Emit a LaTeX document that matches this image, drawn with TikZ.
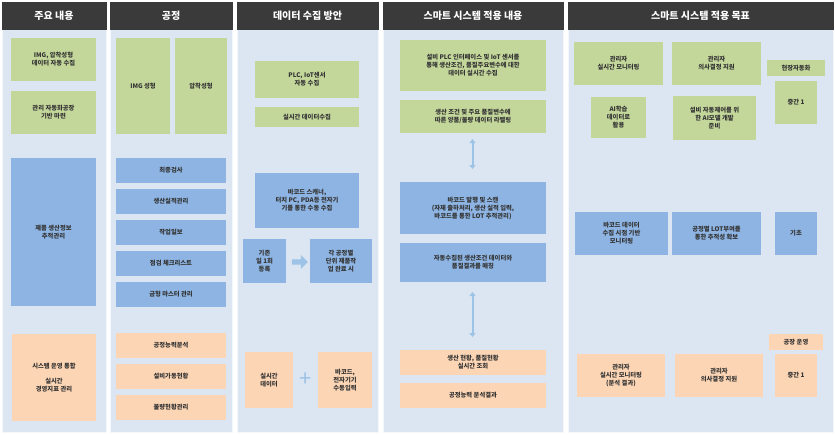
\documentclass[tikz,border=0pt]{standalone}
\usepackage{fontspec}
\setmainfont{Noto Sans CJK KR}
\usetikzlibrary{arrows.meta,shapes.arrows}
\definecolor{hdr}{HTML}{3A3A3A}
\definecolor{colbg}{HTML}{DCE6F2}
\definecolor{gbox}{HTML}{C4D79B}
\definecolor{bbox}{HTML}{8DB4E2}
\definecolor{obox}{HTML}{FCD5B4}
\definecolor{arr}{HTML}{9DC3E6}
\begin{document}
\begin{tikzpicture}[x=1pt,y=-1pt,
  hdrbox/.style={fill=hdr,draw=hdr},
  bgbox/.style={fill=colbg,draw=white!70!colbg},
  txt/.style={font=\fontsize{6.3}{8}\selectfont\bfseries,align=center,text=black!80},
  htxt/.style={font=\fontsize{10}{12}\selectfont\bfseries,text=white}]
\useasboundingbox (0,0) rectangle (835,434);
\fill[white] (0,0) rectangle (835,434);
% columns
\foreach \a/\b/\t [count=\i] in {2/106/주요 내용,110/232/공정,237/378/데이터 수집 방안,383/563/스마트 시스템 적용 내용,568/833/스마트 시스템 적용 목표}{
  \draw[bgbox] (\a,29) rectangle (\b,432);
  \draw[hdrbox] (\a,2) rectangle (\b,29);
  \node[htxt] (h\i) at ({(\a+\b)/2},15.5) {\t};
}
\newcommand{\bx}[7]{\fill[#1] (#3,#4) rectangle (#5,#6); \node[txt] (#2) at ({(#3+#5)/2},{(#4+#6)/2}) {#7};}
% col1
\bx{gbox}{a1}{11}{38}{96}{81}{IMG, 압착성형\\데이터 자동 수집}
\bx{gbox}{a2}{11}{91}{96}{134}{관리 자동화공장\\기반 마련}
\bx{bbox}{a3}{11}{158}{96}{306}{제품 생산정보\\추적관리}
\bx{obox}{a4}{12}{334}{96}{421}{시스템 운영 통합\\[7pt]실시간\\경영지표 관리}
% col2
\bx{gbox}{b1}{116}{38}{170}{134}{IMG 성형}
\bx{gbox}{b2}{175}{38}{227}{134}{압착성형}
\bx{bbox}{b3}{116}{158}{226}{183}{최종검사}
\bx{bbox}{b4}{116}{189}{226}{214}{생산실적관리}
\bx{bbox}{b5}{116}{220}{226}{245}{작업일보}
\bx{bbox}{b6}{116}{251}{226}{276}{점검 체크리스트}
\bx{bbox}{b7}{116}{282}{226}{307}{금형 마스터 관리}
\bx{obox}{b8}{116}{333}{226}{358}{공정능력분석}
\bx{obox}{b9}{116}{364}{226}{389}{설비가동현황}
\bx{obox}{b10}{116}{395}{226}{420}{불량현황관리}
% col3
\bx{gbox}{c1}{255}{61}{359}{98}{PLC, IoT센서\\자동 수집}
\bx{gbox}{c2}{255}{107}{359}{127}{실시간 데이터수집}
\bx{bbox}{c3}{255}{173}{359}{228}{바코드 스캐너,\\터치 PC, PDA등 전자기\\기를 통한 수동 수집}
\bx{bbox}{c4}{243}{239}{286}{283}{기존\\일 1회\\등록}
\bx{bbox}{c5}{310}{239}{372}{283}{각 공정별\\단위 제품작\\업 완료 시}
\node[single arrow,fill=arr,minimum height=16pt,minimum width=14pt,single arrow head extend=2pt,inner sep=1pt] (ar1) at (298.5,262) {};
\bx{obox}{c6}{245}{352}{293}{408}{실시간\\데이터}
\bx{obox}{c7}{318}{352}{372}{408}{바코드,\\전자기기\\수동입력}
\node[font=\fontsize{22}{22}\selectfont,text=arr] (plus) at (305.5,380) {+};
% col4
\bx{gbox}{d1}{400}{40}{546}{91}{설비 PLC 인터페이스 및 IoT 센서를\\통해 생산조건, 품질주요변수에 대한\\데이터 실시간 수집}
\bx{gbox}{d2}{400}{100}{546}{133}{생산 조건 및 주요 품질변수에\\따른 양품/불량 데이터 라벨링}
\bx{bbox}{d3}{400}{182}{546}{234}{바코드 발행 및 스캔\\(자재 출하처리, 생산 실적 입력,\\바코드를 통한 LOT 추적관리)}
\bx{bbox}{d4}{400}{243}{546}{282}{자동수집된 생산조건 데이터와\\품질결과를 매칭}
\bx{obox}{d5}{400}{350}{546}{375}{생산 현황, 품질현황\\실시간 조회}
\bx{obox}{d6}{400}{383}{546}{408}{공정능력 분석결과}
\coordinate (v1a) at (472.5,139); \coordinate (v1b) at (472.5,169);
\coordinate (v2a) at (472.5,292); \coordinate (v2b) at (472.5,337);
\draw[arr,line width=2pt,{Triangle[width=6pt,length=4pt]}-{Triangle[width=6pt,length=4pt]}] (v1a) -- (v1b);
\draw[arr,line width=2pt,{Triangle[width=6pt,length=4pt]}-{Triangle[width=6pt,length=4pt]}] (v2a) -- (v2b);
% col5
\bx{gbox}{e1}{574}{42}{663}{85}{관리자\\실시간 모니터링}
\bx{gbox}{e2}{672}{42}{761}{85}{관리자\\의사결정 지원}
\bx{gbox}{e3}{767}{60}{825}{76}{현장자동화}
\bx{gbox}{e4}{775}{81}{817}{124}{중간 1}
\bx{gbox}{e5}{591}{97}{646}{138}{AI학습\\데이터로\\활용}
\bx{gbox}{e6}{673}{96}{756}{140}{설비 자동제어를 위\\한 AI모델 개발\\준비}
\bx{bbox}{e7}{575}{212}{668}{255}{바코드 데이터\\수집 시점 기반\\모니터링}
\bx{bbox}{e8}{672}{212}{761}{255}{공정별 LOT부여를\\통한 추적성 확보}
\bx{bbox}{e9}{775}{212}{817}{255}{기초}
\bx{obox}{e10}{769}{334}{823}{350}{공장 운영}
\bx{obox}{e11}{577}{354}{665}{397}{관리자\\실시간 모니터링\\(분석 결과)}
\bx{obox}{e12}{675}{354}{763}{397}{관리자\\의사결정 지원}
\bx{obox}{e13}{775}{354}{817}{397}{중간 1}
\end{tikzpicture}
\end{document}
